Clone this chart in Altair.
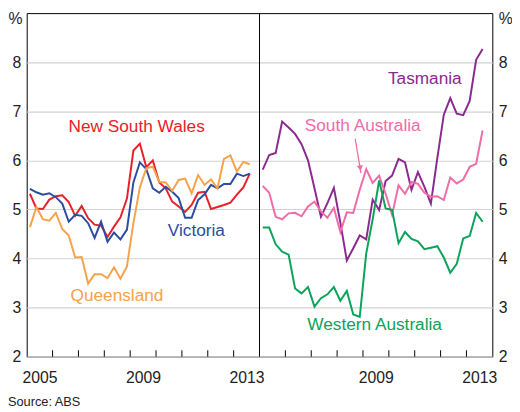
import altair as alt
import pandas as pd

# Unemployment rates (%), quarterly, Mar-2005 .. Sep-2013
nsw = [5.32, 5.02, 5.01, 5.20, 5.27, 5.29, 5.15, 4.87, 5.07, 4.82, 4.69, 4.67, 4.44, 4.65, 4.84, 5.22,
       6.20, 6.34, 5.86, 6.00, 5.55, 5.43, 5.16, 5.06, 4.95, 5.09, 5.34, 5.36, 5.01, 5.05, 5.09, 5.14,
       5.30, 5.45, 5.73]
vic = [5.42, 5.35, 5.30, 5.33, 5.25, 5.12, 4.75, 4.89, 4.87, 4.72, 4.42, 4.75, 4.34, 4.53, 4.39, 4.59,
       5.55, 5.96, 5.82, 5.43, 5.34, 5.46, 5.36, 5.23, 4.83, 4.83, 5.19, 5.31, 5.50, 5.43, 5.52, 5.52,
       5.73, 5.68, 5.73]
qld = [4.64, 5.05, 4.80, 4.77, 4.93, 4.60, 4.47, 4.02, 4.03, 3.49, 3.68, 3.68, 3.60, 3.82, 3.59, 3.84,
       4.72, 5.45, 5.84, 5.87, 5.56, 5.55, 5.38, 5.60, 5.63, 5.33, 5.70, 5.50, 5.61, 5.43, 6.03, 6.10,
       5.77, 5.97, 5.92]
tas = [5.81, 6.11, 6.15, 6.79, 6.67, 6.54, 6.33, 6.00, 5.43, 4.85, 5.13, 5.44, 4.73, 3.96, 4.21, 4.47,
       4.39, 5.20, 4.99, 5.58, 5.69, 6.03, 5.96, 5.40, 5.76, 5.46, 5.12, 6.05, 6.93, 7.27, 6.95, 6.92,
       7.21, 8.05, 8.27]
sa = [5.48, 5.34, 4.85, 4.80, 4.92, 4.93, 4.86, 5.06, 5.16, 4.96, 4.83, 5.03, 4.54, 4.94, 4.93, 5.40,
      5.82, 5.54, 5.69, 5.32, 4.89, 5.49, 5.32, 5.56, 5.52, 5.34, 5.26, 5.27, 5.19, 5.65, 5.53, 5.61,
      5.87, 5.93, 6.61]
wa = [4.63, 4.63, 4.29, 4.14, 4.08, 3.39, 3.29, 3.42, 3.02, 3.19, 3.27, 3.42, 3.14, 3.34, 2.86, 2.81,
      4.10, 4.80, 5.59, 5.02, 4.99, 4.31, 4.54, 4.40, 4.35, 4.19, 4.22, 4.25, 4.02, 3.71, 3.89, 4.41,
      4.46, 4.93, 4.75]

series_names = ["New South Wales", "Victoria", "Queensland", "Tasmania", "South Australia", "Western Australia"]
series_values = [nsw, vic, qld, tas, sa, wa]
series_panel = [0, 0, 0, 1, 1, 1]
series_colors = ["#e8202a", "#2b4c9f", "#f6a24b", "#8a2a8e", "#f06ba8", "#0aa35a"]

# label positions (panel-offset years, %)
label_x = [4.25, 6.56, 3.49, 15.39, 12.99, 13.45]
label_y = [6.68, 4.55, 3.24, 7.66, 6.70, 2.64]

year_labels = {0: "2005", 4: "2009", 8: "2013", 13: "2009", 17: "2013"}
panel_span = 9

rows = []
for name, vals, p in zip(series_names, series_values, series_panel):
    for i, v in enumerate(vals):
        rows.append({"series": name, "x": p * panel_span + 0.125 + 0.25 * i, "value": v})
df = pd.DataFrame(rows)

labels_df = pd.DataFrame({"label": series_names, "x": label_x, "y": label_y, "color": series_colors})
ticks_df = pd.DataFrame({"x": [k for k in range(1, 18) if k != 9]})
divider_df = pd.DataFrame({"x": [panel_span]})
arrow_df = pd.DataFrame({"x": [12.70], "y": [6.44], "x2": [12.92], "y2": [5.74]})
head_df = pd.DataFrame({"x": [12.89], "y": [5.86]})

FONT = "Liberation Sans"
ysc = alt.Scale(domain=[2, 9], nice=False, zero=False)
xsc = alt.Scale(domain=[0, 18], nice=False, zero=False)

label_expr = " : ".join(f"datum.value == {k} ? '{v}'" for k, v in year_labels.items()) + " : ''"
xaxis = alt.Axis(values=list(range(0, 19)), labelExpr=label_expr, ticks=False, grid=False, domain=False,
                 labelOffset=13, labelPadding=13, labelFontSize=16, labelFlush=False, labelOverlap=False,
                 labelColor="#222222", title=None, labelFont=FONT)

X = alt.X("x:Q", scale=xsc, axis=xaxis)

lines = alt.Chart(df).mark_line(strokeWidth=2).encode(
    x=X,
    y=alt.Y("value:Q", scale=ysc,
            axis=alt.Axis(values=[2, 3, 4, 5, 6, 7, 8], grid=True, gridColor="#d2d2d2", gridWidth=1.2,
                          ticks=False, domain=False, labelFontSize=16, labelPadding=6, labelColor="#222222",
                          labelFont=FONT, title="%", titleAngle=0, titleAlign="center", titleBaseline="middle",
                          titleX=-12, titleY=6, titleFontSize=16, titleFontWeight="normal",
                          titleColor="#222222", titleFont=FONT)),
    color=alt.Color("series:N", scale=alt.Scale(domain=series_names, range=series_colors), legend=None),
    detail="series:N",
)

right_axis = alt.Chart(divider_df).mark_rule(color="black", strokeWidth=1).encode(
    x=X,
    y=alt.Y("lo:Q", scale=ysc,
            axis=alt.Axis(values=[2, 3, 4, 5, 6, 7, 8], grid=False, orient="right",
                          ticks=False, domain=False, labelFontSize=16, labelPadding=6, labelColor="#222222",
                          labelFont=FONT, title="%", titleAngle=0, titleAlign="left", titleBaseline="middle",
                          titleX=6, titleY=6, titleFontSize=16, titleFontWeight="normal",
                          titleColor="#222222", titleFont=FONT)),
    y2="hi:Q",
).transform_calculate(lo="2", hi="9")

ticks = alt.Chart(ticks_df).mark_rule(color="black", strokeWidth=1).encode(
    x=X,
    y=alt.Y("lo:Q", scale=ysc, axis=None),
    y2="hi:Q",
).transform_calculate(lo="2", hi="2.13")

texts = alt.Chart(labels_df).mark_text(fontSize=17.5, font=FONT, align="center", baseline="middle").encode(
    x=X,
    y=alt.Y("y:Q", scale=ysc, axis=None),
    text="label:N",
    color=alt.Color("color:N", scale=None),
)

arrow = alt.Chart(arrow_df).mark_rule(color="#f06ba8", strokeWidth=1.3).encode(
    x=X, y=alt.Y("y:Q", scale=ysc, axis=None), x2="x2:Q", y2="y2:Q"
)
head = alt.Chart(head_df).mark_point(shape="triangle", filled=True, size=40, angle=171,
                                     color="#f06ba8", opacity=1).encode(
    x=X, y=alt.Y("y:Q", scale=ysc, axis=None)
)

chart = alt.layer(lines, texts, arrow, head, ticks, right_axis).resolve_scale(
    y="independent", color="independent"
).properties(
    width=473, height=349,
    autosize=alt.AutoSizeParams(type="none"),
    padding={"left": 19, "top": 2, "right": 20, "bottom": 53},
    title=alt.TitleParams("Source: ABS", orient="bottom", anchor="start", fontSize=13,
                          fontWeight="normal", font=FONT, color="#222222", offset=11),
).configure_view(stroke="black", strokeWidth=1)

chart.save("out.html", embed_options={"renderer": "svg", "actions": False})
